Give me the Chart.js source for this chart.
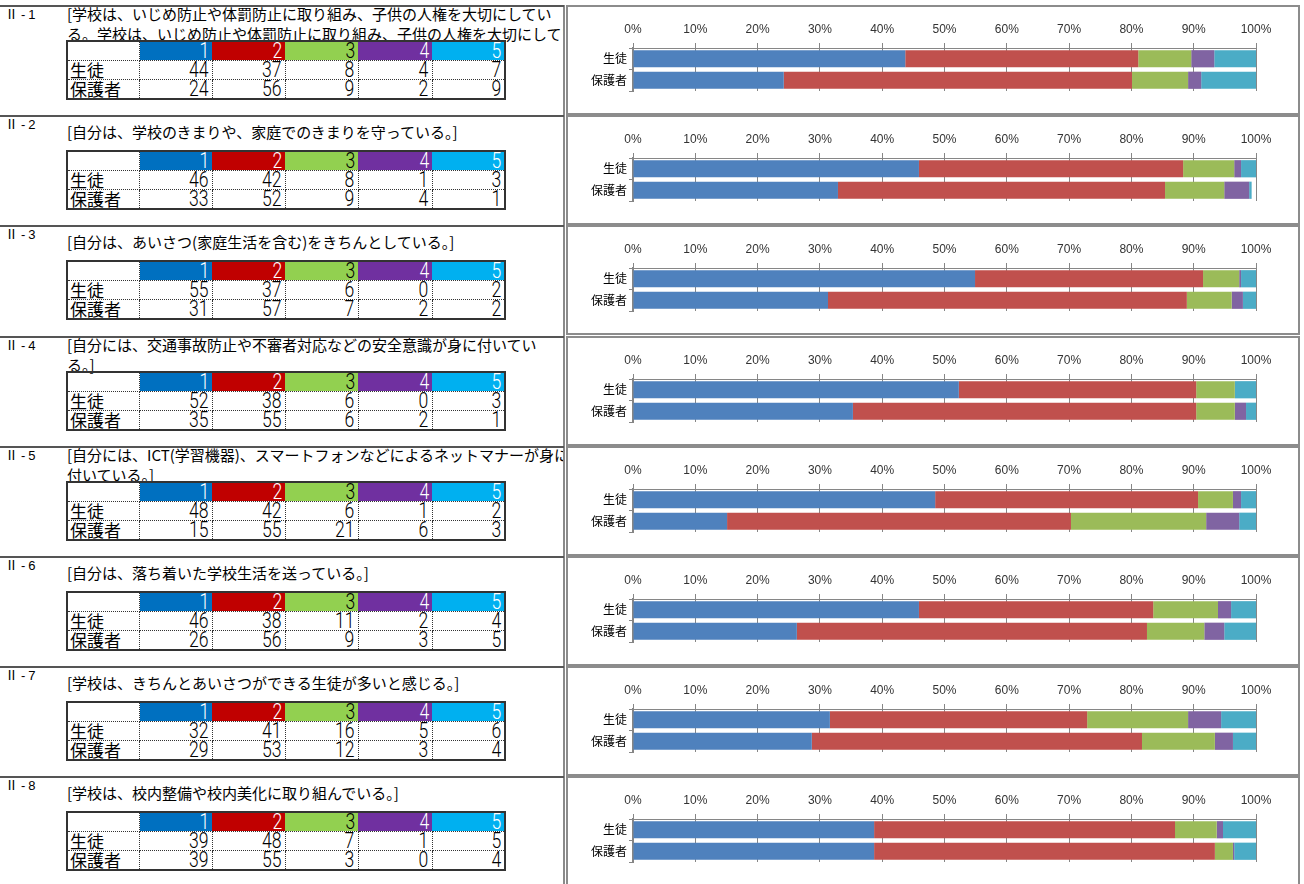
<!DOCTYPE html>
<html lang="ja">
<head>
<meta charset="UTF-8">
<title>アンケート結果 Ⅱ</title>
<script src="https://cdn.jsdelivr.net/npm/chart.js"></script>
<style>
  body { margin: 0; background: #fff; font-family: 'Noto Sans CJK JP', sans-serif; color: #000; }
  #page { position: relative; width: 1304px; height: 884px; overflow: hidden; }
  .sep { position: absolute; left: 0; width: 564px; height: 2px; background: #555; }
  .vsep { position: absolute; left: 563px; top: 5px; width: 2px; height: 879px; background: #8a8a8a; }
  .qno { position: absolute; left: 5px; font-size: 13px; line-height: 14px; white-space: nowrap; }
  .qno span { font-family: 'Liberation Sans', sans-serif; letter-spacing: 3px; margin-left: 3px; }
  .qtext { position: absolute; left: 67px; width: 496px; overflow: hidden; white-space: nowrap; font-size: 15px; line-height: 20px; }
  table.tb { position: absolute; left: 66px; width: 438px; border-collapse: collapse; border: 2px solid #333; table-layout: fixed; }
  table.tb td { height: 18px; padding: 0 3px 0 2px; line-height: 18px; overflow: hidden; white-space: nowrap; }
  table.tb td.lab { text-align: left; font-size: 17px; border: 1px dotted #333; }
  table.tb td.hd { text-align: right; color: #fff; border-bottom: 1px dotted #333; }
  table.tb td.val { text-align: right; border: 1px dotted #333; }
  .num { display: inline-block; font-family: Roboto, 'Liberation Sans', sans-serif; font-weight: 300; font-size: 22px; transform: scaleX(0.8); transform-origin: right center; }
  .box { position: absolute; left: 566px; width: 730px; height: 106px; border: 2px solid #8c8c8c; }
  .box canvas { position: absolute; left: 0; top: 0; }
</style>
</head>
<body>
<div id="page"></div>
<script>
// --- data ---
const categories = ['生徒', '保護者'];
const ratingLabels = ['1', '2', '3', '4', '5'];
const xTickLabels = ['0%', '10%', '20%', '30%', '40%', '50%', '60%', '70%', '80%', '90%', '100%'];

const questionNos = ['-1', '-2', '-3', '-4', '-5', '-6', '-7', '-8'];
const questionTexts = [
  ['[学校は、いじめ防止や体罰防止に取り組み、子供の人権を大切にしてい', 'る。学校は、いじめ防止や体罰防止に取り組み、子供の人権を大切にしてい'],
  ['[自分は、学校のきまりや、家庭でのきまりを守っている。]'],
  ['[自分は、あいさつ(家庭生活を含む)をきちんとしている。]'],
  ['[自分には、交通事故防止や不審者対応などの安全意識が身に付いてい', 'る。]'],
  ['[自分には、ICT(学習機器)、スマートフォンなどによるネットマナーが身に', '付いている。]'],
  ['[自分は、落ち着いた学校生活を送っている。]'],
  ['[学校は、きちんとあいさつができる生徒が多いと感じる。]'],
  ['[学校は、校内整備や校内美化に取り組んでいる。]']
];

// table values (rounded %), rating 1..5
const studentTable = [
  [44, 37, 8, 4, 7],
  [46, 42, 8, 1, 3],
  [55, 37, 6, 0, 2],
  [52, 38, 6, 0, 3],
  [48, 42, 6, 1, 2],
  [46, 38, 11, 2, 4],
  [32, 41, 16, 5, 6],
  [39, 48, 7, 1, 5]
];
const parentTable = [
  [24, 56, 9, 2, 9],
  [33, 52, 9, 4, 1],
  [31, 57, 7, 2, 2],
  [35, 55, 6, 2, 1],
  [15, 55, 21, 6, 3],
  [26, 56, 9, 3, 5],
  [29, 53, 12, 3, 4],
  [39, 55, 3, 0, 4]
];

// bar segment widths (%)
const studentBars = [
  [43.7, 37.4, 8.5, 3.7, 6.7],
  [45.9, 42.4, 8.2, 1.1, 2.4],
  [54.9, 36.6, 5.8, 0.3, 2.4],
  [52.3, 38.1, 6.2, 0.0, 3.4],
  [48.5, 42.2, 5.6, 1.3, 2.4],
  [45.9, 37.6, 10.4, 2.1, 4.0],
  [31.6, 41.3, 16.2, 5.3, 5.6],
  [38.7, 48.3, 6.7, 1.0, 5.3]
];
const parentBars = [
  [24.2, 55.9, 9.0, 2.1, 8.8],
  [32.9, 52.5, 9.5, 4.0, 0.4],
  [31.3, 57.6, 7.2, 1.8, 2.1],
  [35.3, 55.1, 6.2, 1.8, 1.6],
  [15.1, 55.2, 21.7, 5.3, 2.7],
  [26.3, 56.2, 9.2, 3.2, 5.1],
  [28.7, 53.0, 11.7, 2.9, 3.7],
  [38.7, 54.7, 2.9, 0.2, 3.5]
];

// table header fills and chart fills
const headerColors = ['#0070C0', '#C00000', '#92D050', '#7030A0', '#00B0F0'];
const barColors = ['#4F81BD', '#C0504D', '#9BBB59', '#8064A2', '#4BACC6'];
const colWidths = [72, 73, 73, 73, 74, 73];

// --- layout ---
const page = document.getElementById('page');
const rowTop = i => Math.round(5 + i * 110.2);

const vsep = document.createElement('div');
vsep.className = 'vsep';
page.appendChild(vsep);

questionNos.forEach((no, i) => {
  const T = rowTop(i);

  const sep = document.createElement('div');
  sep.className = 'sep';
  sep.style.top = T + 'px';
  page.appendChild(sep);

  const qno = document.createElement('div');
  qno.className = 'qno';
  qno.style.top = (T + 2) + 'px';
  qno.innerHTML = 'Ⅱ<span>' + no + '</span>';
  page.appendChild(qno);

  const lines = questionTexts[i];
  lines.forEach((line, j) => {
    const t = document.createElement('div');
    t.className = 'qtext';
    t.style.top = (lines.length > 1 ? T - 1 + j * 20 : T + 7) + 'px';
    t.textContent = line;
    page.appendChild(t);
  });

  // table
  const tb = document.createElement('table');
  tb.className = 'tb';
  tb.style.top = (T + 35) + 'px';
  let html = '<colgroup>' + colWidths.map(w => `<col style="width:${w}px">`).join('') + '</colgroup>';
  html += '<tr><td class="lab"></td>';
  ratingLabels.forEach((r, k) => {
    html += `<td class="hd" style="background:${headerColors[k]};color:${k === 2 ? '#000' : '#fff'}"><span class="num">${r}</span></td>`;
  });
  html += '</tr>';
  [studentTable[i], parentTable[i]].forEach((vals, c) => {
    html += `<tr><td class="lab">${categories[c]}</td>`;
    vals.forEach(v => { html += `<td class="val"><span class="num">${v}</span></td>`; });
    html += '</tr>';
  });
  tb.innerHTML = html;
  page.appendChild(tb);

  // chart box
  const box = document.createElement('div');
  box.className = 'box';
  box.style.top = T + 'px';
  const cv = document.createElement('canvas');
  cv.width = 730;
  cv.height = 106;
  box.appendChild(cv);
  page.appendChild(box);

  new Chart(cv, {
    type: 'bar',
    data: {
      labels: categories,
      datasets: ratingLabels.map((r, k) => ({
        label: r,
        data: [studentBars[i][k], parentBars[i][k]],
        backgroundColor: barColors[k],
        borderWidth: 0,
        barPercentage: 0.8,
        categoryPercentage: 1.0
      }))
    },
    options: {
      indexAxis: 'y',
      responsive: false,
      animation: false,
      layout: { padding: { left: 0, right: 42, top: 10, bottom: 22 } },
      plugins: { legend: { display: false }, tooltip: { enabled: false } },
      scales: {
        x: {
          position: 'top',
          stacked: true,
          min: 0,
          max: 100,
          ticks: {
            stepSize: 10,
            callback: (v, idx) => xTickLabels[idx],
            font: { family: 'Liberation Sans', size: 12 },
            color: '#333',
            padding: 6,
            maxRotation: 0,
            autoSkip: false
          },
          grid: { color: '#868686', tickLength: 5, drawOnChartArea: true },
          border: { color: '#868686', width: 1 },
          afterFit: s => { s.height = 31; }
        },
        y: {
          stacked: true,
          ticks: { font: { family: 'Noto Sans CJK JP', size: 12 }, color: '#000', padding: 2 },
          grid: { drawOnChartArea: false, tickLength: 4, color: '#868686', offset: true },
          border: { color: '#868686', width: 2 },
          afterFit: s => { s.width = 65; }
        }
      }
    }
  });
});
</script>
</body>
</html>
